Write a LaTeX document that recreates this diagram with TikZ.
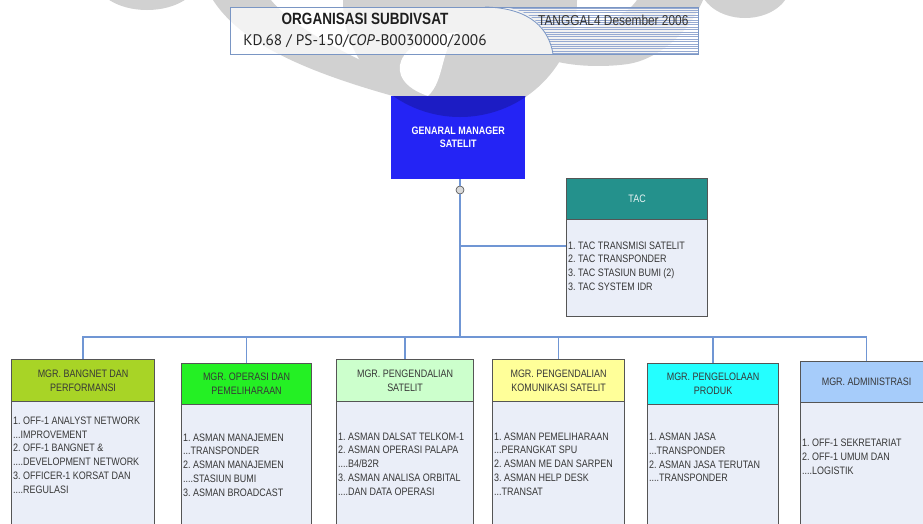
\documentclass[tikz,border=0pt]{standalone}
\usepackage{fontspec}
\setmainfont{Liberation Sans}
\newfontfamily\orgfont{Liberation Sans}[FakeStretch=0.83]
\newfontfamily\codefont{PT Sans}
\frenchspacing

\definecolor{wm}{gray}{0.82}
\definecolor{gmblue}{RGB}{36,36,245}
\definecolor{gmdark}{RGB}{28,28,196}
\definecolor{tacteal}{RGB}{36,145,140}
\definecolor{bodyfill}{RGB}{234,238,248}
\definecolor{boxline}{RGB}{85,85,85}
\definecolor{connblue}{RGB}{112,150,212}
\definecolor{hdrA}{RGB}{168,212,38}
\definecolor{hdrB}{RGB}{36,240,36}
\definecolor{hdrC}{RGB}{204,255,204}
\definecolor{hdrD}{RGB}{255,255,153}
\definecolor{hdrE}{RGB}{36,255,255}
\definecolor{hdrF}{RGB}{166,204,250}
\definecolor{tline}{RGB}{122,150,196}
\definecolor{stripecol}{RGB}{150,170,210}
\definecolor{txtgray}{RGB}{55,55,55}

\tikzset{
  hdrbox/.style={draw=boxline, line width=1.2pt, inner sep=0pt, align=center,
    font=\orgfont\fontsize{10.8}{14}\selectfont, text=txtgray, anchor=north west},
  bodybox/.style={draw=boxline, line width=1pt, fill=bodyfill, inner sep=0pt, anchor=north west},
  bodytxt/.style={align=left, inner sep=0pt, anchor=west,
    font=\orgfont\fontsize{10.8}{13.8}\selectfont, text=txtgray},
  conn/.style={draw=connblue, line width=1.3pt},
  trunk/.style={draw=connblue, line width=2pt},
}

\begin{document}
\begin{tikzpicture}[x=1pt,y=-1pt]
\useasboundingbox (0,0) rectangle (923,523);
\clip (0,0) rectangle (923,523);
\fill[white] (0,0) rectangle (923,523);

% faint emblem in the page background
\fill[wm] (460,0) circle (117);
\fill[wm] (210,-5) .. controls (235,40) and (300,70) .. (393,96)
  -- (360,60) .. controls (320,40) and (285,20) .. (267,-5) -- cycle;
\fill[wm] (705,-5) .. controls (690,35) and (655,60) .. (628,64)
  .. controls (600,68) and (565,66) .. (545,58)
  -- (565,30) .. controls (600,30) and (630,15) .. (640,-5) -- cycle;
\fill[wm] (147,-22) ellipse (52 and 32);
\fill[wm] (745,-15) ellipse (45 and 33);
\fill[white] (458,32) .. controls (395,38) and (380,80) .. (428,96)
  .. controls (445,80) and (440,50) .. (458,32) -- cycle;

% heading panel
\node[draw=tline, line width=0.8pt, minimum width=468pt, minimum height=47pt,
  inner sep=0pt, anchor=north west, fill=white, fill opacity=0.72] (tbox) at (230,7) {};
\begin{scope}
  \clip (500,7) .. controls (532,8) and (549,30) .. (553,54) -- (698,54) -- (698,7) -- cycle;
  \foreach \k in {0,...,19}
    \draw[stripecol, line width=0.9pt] (495,{8+2.4*\k}) -- (698,{8+2.4*\k});
\end{scope}
\draw[tline, line width=0.8pt] (485,7) .. controls (532,8) and (549,30) .. (553,54);
\node[anchor=base, inner sep=0pt, text=black!88,
  font=\orgfont\bfseries\fontsize{16.3}{16}\selectfont] (ttl) at (365,24) {ORGANISASI SUBDIVSAT};
\node[anchor=base, inner sep=0pt, text=black!85,
  font=\codefont\fontsize{15.3}{16}\selectfont] (code) at (365,45) {KD.68 / PS-150/\textit{COP}-B0030000/2006};
\node[anchor=base west, inner sep=0pt, text=black!80,
  font=\orgfont\fontsize{14.3}{15}\selectfont] (date) at (538,25) {TANGGAL4 Desember 2006};

% general manager
\node[fill=gmblue, minimum width=134pt, minimum height=83pt, inner sep=0pt,
  anchor=north west, align=center, text=white,
  font=\orgfont\bfseries\fontsize{10.8}{13}\selectfont] (gm) at (391,96) {GENARAL MANAGER\\SATELIT};
\begin{scope}
  \clip (gm.north west) rectangle (gm.south east);
  \fill[gmdark] (460,0) circle (117);
\end{scope}

% TAC
\node[bodybox, minimum width=141pt, minimum height=97pt] (tacb) at (566,219) {};
\node[hdrbox, fill=tacteal, text=white!90!tacteal, minimum width=141pt, minimum height=41pt] (tach) at (566,178) {TAC};
\node[bodytxt] (tact) at (568,266) {1. TAC TRANSMISI SATELIT\\2. TAC TRANSPONDER\\3. TAC STASIUN BUMI (2)\\3. TAC SYSTEM IDR};

% managers
\node[bodybox, minimum width=143pt, minimum height=140pt] (b1) at (11,401) {};
\node[hdrbox, fill=hdrA, minimum width=143pt, minimum height=42pt] (h1) at (11,359) {MGR. BANGNET DAN\\PERFORMANSI};
\node[bodytxt] (t1) at (13,455) {1. OFF-1 ANALYST NETWORK\\...IMPROVEMENT\\2. OFF-1 BANGNET \&\\....DEVELOPMENT NETWORK\\3. OFFICER-1 KORSAT DAN\\....REGULASI};

\node[bodybox, minimum width=130pt, minimum height=140pt] (b2) at (181,404) {};
\node[hdrbox, fill=hdrB, minimum width=130pt, minimum height=41pt] (h2) at (181,363) {MGR. OPERASI DAN\\PEMELIHARAAN};
\node[bodytxt] (t2) at (183,465) {1. ASMAN MANAJEMEN\\...TRANSPONDER\\2. ASMAN MANAJEMEN\\....STASIUN BUMI\\3. ASMAN BROADCAST};

\node[bodybox, minimum width=137pt, minimum height=140pt] (b3) at (336,401) {};
\node[hdrbox, fill=hdrC, minimum width=137pt, minimum height=42pt] (h3) at (336,359) {MGR. PENGENDALIAN\\SATELIT};
\node[bodytxt] (t3) at (338,464) {1. ASMAN DALSAT TELKOM-1\\2. ASMAN OPERASI PALAPA\\....B4/B2R\\3. ASMAN ANALISA ORBITAL\\....DAN DATA OPERASI};

\node[bodybox, minimum width=132pt, minimum height=140pt] (b4) at (492,401) {};
\node[hdrbox, fill=hdrD, minimum width=132pt, minimum height=42pt] (h4) at (492,359) {MGR. PENGENDALIAN\\KOMUNIKASI SATELIT};
\node[bodytxt] (t4) at (494,464) {1. ASMAN PEMELIHARAAN\\...PERANGKAT SPU\\2. ASMAN ME DAN SARPEN\\3. ASMAN HELP DESK\\...TRANSAT};

\node[bodybox, minimum width=131pt, minimum height=140pt] (b5) at (647,404) {};
\node[hdrbox, fill=hdrE, minimum width=131pt, minimum height=41pt] (h5) at (647,363) {MGR. PENGELOLAAN\\PRODUK};
\node[bodytxt] (t5) at (649,457.5) {1. ASMAN JASA\\...TRANSPONDER\\2. ASMAN JASA TERUTAN\\....TRANSPONDER};

\node[bodybox, minimum width=132pt, minimum height=140pt] (b6) at (800,402) {};
\node[hdrbox, fill=hdrF, minimum width=132pt, minimum height=41pt] (h6) at (800,361) {MGR. ADMINISTRASI};
\node[bodytxt] (t6) at (802,456.5) {1. OFF-1 SEKRETARIAT\\2. OFF-1 UMUM DAN\\....LOGISTIK};

% connectors
\node[circle, draw=gray!60!black, line width=0.6pt, fill=gray!30, minimum size=8pt, inner sep=0pt] (hub) at (460,190) {};
\coordinate (junc) at (460,337);
\coordinate (tacj) at (460,246);
\draw[trunk] (gm.south -| hub) -- (hub.north);
\draw[trunk] (hub.south) -- (junc);
\draw[conn] (tacj) -- (tacj -| tacb.west);
\foreach \h in {h1,h2,h3,h4,h5,h6}
  \draw[conn] (\h.north) |- (junc);
\end{tikzpicture}
\end{document}
